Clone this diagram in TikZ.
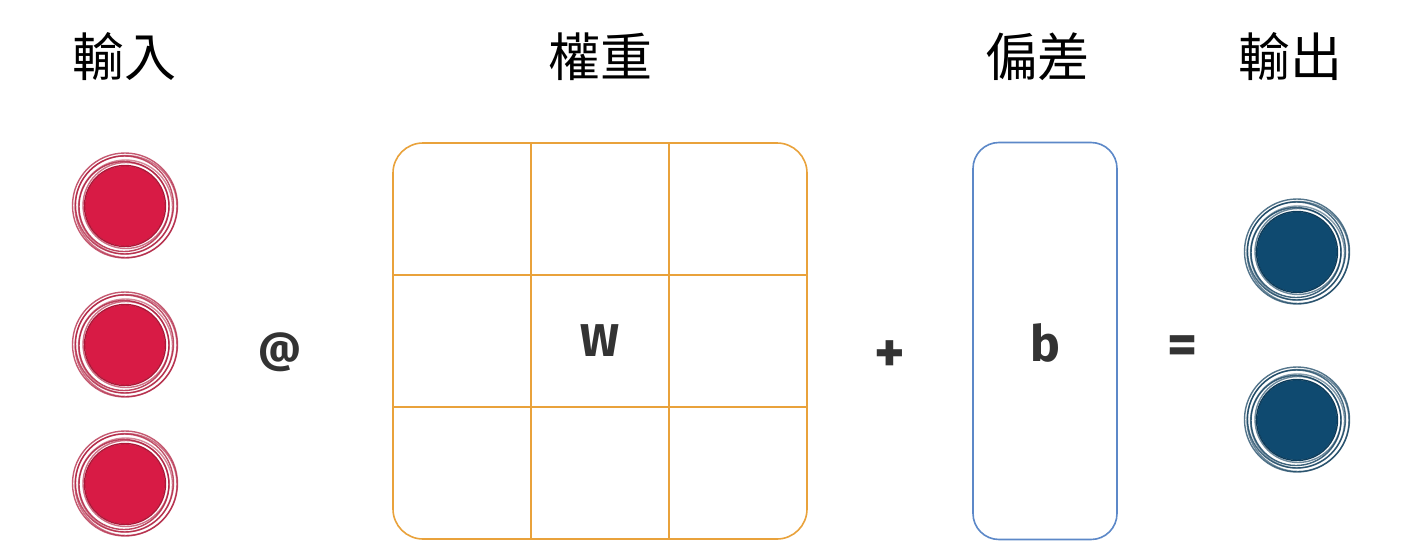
\documentclass[tikz,border=0pt]{standalone}
\usepackage{fontspec}
\setmainfont{Fira Sans}
\newfontfamily\cjk{Noto Sans CJK TC}
\usetikzlibrary{calc}
\definecolor{inred}{HTML}{D81B45}
\definecolor{outblue}{HTML}{0F4A70}
\definecolor{worange}{HTML}{E9A23B}
\definecolor{bblue}{HTML}{5C88C8}
\definecolor{ink}{HTML}{333333}
\begin{document}
\begin{tikzpicture}[x=1pt,y=-1pt,
  title/.style={font=\cjk\fontsize{52}{60}\selectfont, text=black, inner sep=0pt},
  sym/.style={font=\bfseries\fontsize{42}{48}\selectfont, text=ink, inner sep=0pt},
  ball/.style={circle, fill=#1, minimum size=80pt, inner sep=0pt},
  gridline/.style={draw=worange, line width=1.6pt},
  ]
\useasboundingbox[fill=white] (0,0) rectangle (1428,554);

% titles
\node[title] (tin)  at (124,57) {輸入};
\node[title] (tw)   at (600,57) {權重};
\node[title] (tb)   at (1037,57) {偏差};
\node[title] (tout) at (1290,57) {輸出};

% input balls
\node[ball=inred] (in1) at (125,206) {};
\node[ball=inred] (in2) at (125,345) {};
\node[ball=inred] (in3) at (125,484) {};
% output balls
\node[ball=outblue] (out1) at (1297,252) {};
\node[ball=outblue] (out2) at (1297,420) {};

\foreach \n/\c in {in1/inred,in2/inred,in3/inred,out1/outblue,out2/outblue}{
  \foreach \r/\dx/\dy/\o in {40.5/0/0/1, 43/1/-0.5/0.6, 45/-1/0.5/0.8, 47/0.5/1/0.5, 49/-0.5/-1/0.75, 51/1/0.5/0.6, 52.5/0/-0.5/0.7}
    \draw[\c!80!black, opacity=\o, line width=1.4pt] ($(\n)+(\dx,\dy)$) circle[radius=\r pt];
}

% weight matrix
\node[draw=worange, line width=1.6pt, rounded corners=30pt, minimum width=414pt, minimum height=396pt, inner sep=0pt] (W) at (600,341) {};
\draw[gridline] ($(W.north west)!1/3!(W.north east)$) coordinate (v1t) -- ($(W.south west)!1/3!(W.south east)$) coordinate (v1b);
\draw[gridline] ($(W.north west)!2/3!(W.north east)$) coordinate (v2t) -- ($(W.south west)!2/3!(W.south east)$) coordinate (v2b);
\draw[gridline] ($(W.north west)!1/3!(W.south west)$) coordinate (h1l) -- ($(W.north east)!1/3!(W.south east)$) coordinate (h1r);
\draw[gridline] ($(W.north west)!2/3!(W.south west)$) coordinate (h2l) -- ($(W.north east)!2/3!(W.south east)$) coordinate (h2r);
\node[sym, font=\bfseries\fontsize{46}{52}\selectfont] (wlab) at (W.center) {W};

% bias
\node[draw=bblue, line width=1.6pt, rounded corners=26pt, minimum width=144pt, minimum height=397pt, inner sep=0pt] (B) at (1045,341) {};
\node[sym, font=\bfseries\fontsize{50}{56}\selectfont] (blab) at (1045,343) {b};

% operators
\node[sym] (at) at (280,352) {@};
\node[sym, font=\bfseries\fontsize{58}{64}\selectfont] (plus) at (890,357) {+};
\node[sym, font=\bfseries\fontsize{58}{64}\selectfont] (eq) at (1183,350) {=};
\end{tikzpicture}
\end{document}
